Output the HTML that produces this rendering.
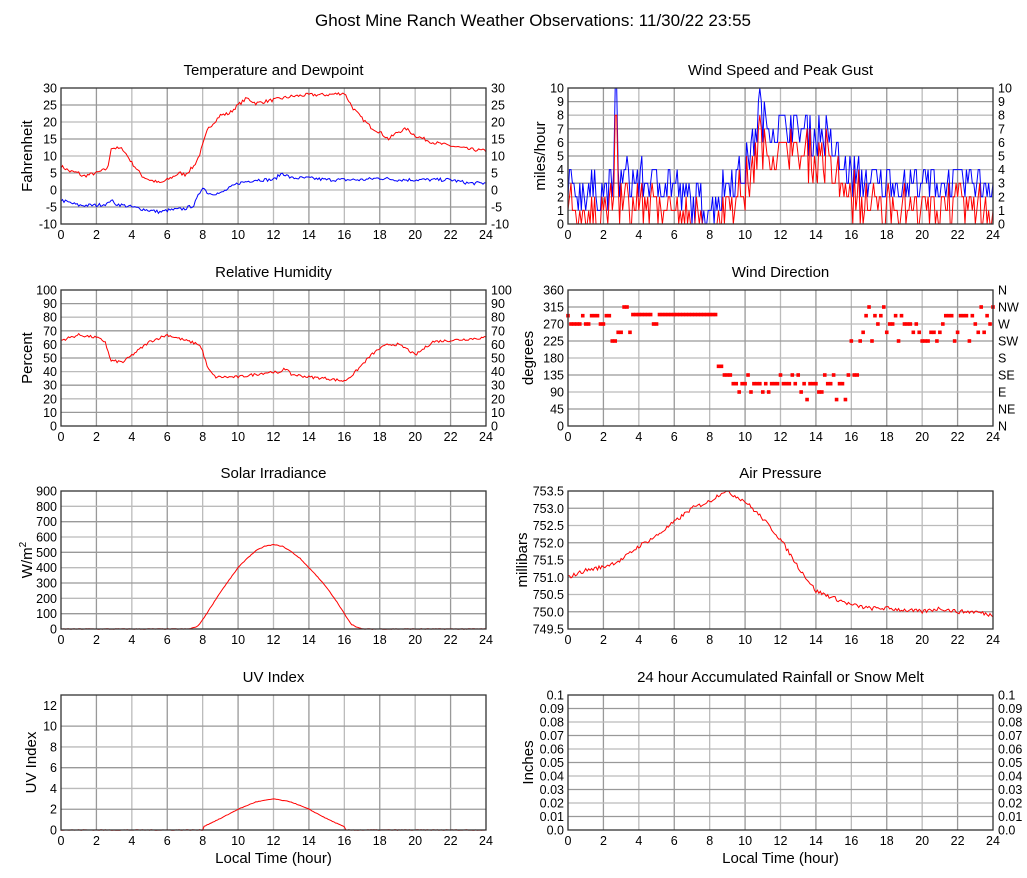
<!DOCTYPE html>
<html><head><meta charset="utf-8"><style>
body{margin:0;background:#fff;}
svg{display:block;font-family:"Liberation Sans",sans-serif;}
</style></head><body>
<svg id="s" width="1027" height="878" xmlns="http://www.w3.org/2000/svg">
<text x="533" y="26" font-size="17" text-anchor="middle">Ghost Mine Ranch Weather Observations: 11/30/22 23:55</text>
</svg>
<script>
var S=document.getElementById('s'),out='';
var seed=7;function rnd(){seed=(seed*16807)%2147483647;return (seed-1)/2147483646;}
function interp(k,t){for(var i=0;i<k.length-1;i++){if(t>=k[i][0]&&t<=k[i+1][0]){var f=(t-k[i][0])/(k[i+1][0]-k[i][0]);return k[i][1]+f*(k[i+1][1]-k[i][1]);}}return k[k.length-1][1];}
function panel(o){
 var x0=o.x0,x1=o.x1,y0=o.y0,y1=o.y1,w=x1-x0,h=y1-y0;
 o.X=function(t){return x0+t/24*w};o.Y=function(v){return y1-(v-o.min)/(o.max-o.min)*h};
 out+='<text x="'+(x0+w/2)+'" y="'+(y0-13)+'" font-size="15" text-anchor="middle">'+o.title+'</text>';
 for(var t=2;t<24;t+=2){out+='<line x1="'+o.X(t)+'" x2="'+o.X(t)+'" y1="'+y0+'" y2="'+y1+'" stroke="'+(t%4?'#999':'#bbb')+'" stroke-width="1.3"/>';}
 for(var i=0;i<o.ticks.length;i++){var v=o.ticks[i],y=o.Y(v);
  if(i>0&&i<o.ticks.length-1)out+='<line x1="'+x0+'" x2="'+x1+'" y1="'+y+'" y2="'+y+'" stroke="'+(i%2?'#999':'#bbb')+'" stroke-width="1.3"/>';
  var lab=o.lab?o.lab[i]:(o.fmt?o.fmt(v):v);
  out+='<text x="'+(x0-4)+'" y="'+(y+4.5)+'" font-size="12.5" text-anchor="end">'+lab+'</text>';
  if(o.right)out+='<text x="'+(x1+5)+'" y="'+(y+4.5)+'" font-size="12.5">'+(o.rlab?o.rlab[i]:lab)+'</text>';}
 for(var t=0;t<=24;t+=2)out+='<text x="'+o.X(t)+'" y="'+(y1+15)+'" font-size="12.5" text-anchor="middle">'+t+'</text>';
 out+='<text transform="translate('+(o.ylx)+','+(y0+h/2)+') rotate(-90)" font-size="15" text-anchor="middle">'+o.ylabel+'</text>';
 if(o.xl)out+='<text x="'+(x0+w/2)+'" y="'+(y1+33)+'" font-size="15" text-anchor="middle">Local Time (hour)</text>';
 return o;}
function line(o,f,col,n,noise){var p=[];n=n||288;for(var i=0;i<=n;i++){var t=i*24/n;var v=f(t);if(v===null)continue;v+=(rnd()-0.5)*noise;p.push(o.X(t).toFixed(1)+','+o.Y(v).toFixed(1));}
 out+='<polyline points="'+p.join(' ')+'" fill="none" stroke="'+col+'" stroke-width="1"/>';}
function frame(o){out+='<rect x="'+o.x0+'" y="'+o.y0+'" width="'+(o.x1-o.x0)+'" height="'+(o.y1-o.y0)+'" fill="none" stroke="#333" stroke-width="1.3"/>';}
var L0=61,L1=486,R0=568,R1=993;
function rng(a,b,s){var r=[];for(var v=a;v<=b+1e-9;v+=s)r.push(+v.toFixed(2));return r;}
var p=panel({x0:L0,x1:L1,y0:88,y1:224,min:-10,max:30,ticks:rng(-10,30,5),right:1,title:'Temperature and Dewpoint',ylabel:'Fahrenheit',ylx:32});
var TK=[[0,7],[0.5,5.5],[1,5],[1.2,4],[2,5],[2.5,6],[2.7,7],[2.8,12.5],[3.5,12],[4,8],[4.6,4],[5,3],[5.6,2],[6,3],[6.7,5],[7,4.5],[7.5,7],[7.8,10],[8.3,18],[9,22],[9.5,22.5],[10,25],[10.5,27],[11,25.5],[12,26.5],[13,27.5],[14,28],[15,28],[16,28.5],[16.5,24],[17,21],[17.5,18.5],[18,17],[18.5,15],[19,17],[19.5,18],[20,16],[20.5,15],[21,14],[22,13],[23,12],[24,11.5]];
var DK=[[0,-3],[1,-4.5],[2,-4.5],[2.7,-4],[2.8,-2.5],[3,-4],[4,-5],[5,-6],[5.6,-6.5],[6,-6],[7,-5.5],[7.5,-4.5],[8,1],[8.3,-1],[9,-1],[10,2],[11,3],[12,3],[12.5,5],[13,3.5],[14,3.5],[15,3],[16,3],[17,3],[18,3.5],[19,3],[20,3],[21,3],[22,3],[23,2],[24,2]];
line(p,function(t){return interp(TK,t)},'#f00',288,1);
line(p,function(t){return interp(DK,t)},'#00f',288,1);frame(p);
p=panel({x0:R0,x1:R1,y0:88,y1:224,min:0,max:10,ticks:rng(0,10,1),right:1,title:'Wind Speed and Peak Gust',ylabel:'miles/hour',ylx:545});
var GK=[[0,2.5],[2.5,2.5],[3,3.5],[6,3],[6.5,2],[8,1],[9,3],[10,4],[10.8,8],[11.5,7.5],[13,7],[14.5,6.5],[15.5,4],[17,3],[24,3]];
var gs=[],rs=[];for(var i=0;i<=288;i++){var t=i/12,g=Math.round(interp(GK,t)+(rnd()-0.5)*3);if(Math.abs(t-2.7)<0.05)g=10;if(Math.abs(t-10.85)<0.05)g=10;g=Math.max(0,Math.min(10,g));var r=Math.max(0,Math.round(g-1-rnd()*1.5));gs.push(p.X(t).toFixed(1)+','+p.Y(g).toFixed(1));rs.push(p.X(t).toFixed(1)+','+p.Y(r).toFixed(1));}
out+='<polyline points="'+gs.join(' ')+'" fill="none" stroke="#00f"/><polyline points="'+rs.join(' ')+'" fill="none" stroke="#f00"/>';frame(p);
p=panel({x0:L0,x1:L1,y0:290,y1:426,min:0,max:100,ticks:rng(0,100,10),right:1,title:'Relative Humidity',ylabel:'Percent',ylx:32});
var HK=[[0,63],[1,67],[2,65],[2.5,62],[2.8,48],[3.5,47],[4,52],[5,62],[6,67],[7,63],[7.8,60],[8,55],[8.3,42],[8.7,36],[10,36],[11,38],[12,40],[12.3,38],[12.6,43],[13,38],[14,36],[15,35],[16,33],[16.5,38],[17.5,52],[18,57],[18.5,60],[19,60],[19.5,57],[20,52],[20.5,57],[21,62],[22,63],[23,64],[24,65]];
line(p,function(t){return interp(HK,t)},'#f00',288,2);frame(p);
p=panel({x0:R0,x1:R1,y0:290,y1:426,min:0,max:360,ticks:rng(0,360,45),right:1,rlab:['N','NE','E','SE','S','SW','W','NW','N'],title:'Wind Direction',ylabel:'degrees',ylx:533});
for(var i=0;i<=144;i++){var t=i/6,d;
 if(t<2.4)d=[270,292,292,270][Math.floor(rnd()*4)];
 else if(t<3.6)d=[248,225,225,248,315,200][Math.floor(rnd()*6)];
 else if(t<8.5)d=rnd()<0.95?295:270;
 else if(t<9.2)d=[158,135][Math.floor(rnd()*2)];
 else if(t<16)d=[112,112,112,90,135,112,70][Math.floor(rnd()*7)];
 else if(t<16.6)d=[135,158,225][Math.floor(rnd()*3)];
 else d=[270,292,248,270,292,225,315][Math.floor(rnd()*7)];
 out+='<rect x="'+(p.X(t)-1.8)+'" y="'+(p.Y(d)-1.8)+'" width="3.6" height="3.6" fill="#f00"/>';}
frame(p);
p=panel({x0:L0,x1:L1,y0:491,y1:629,min:0,max:900,ticks:rng(0,900,100),title:'Solar Irradiance',ylabel:'W/m<tspan font-size="10" dy="-6">2</tspan>',ylx:32});
var SK=[[0,0],[7.2,0],[7.7,15],[8,60],[8.5,150],[9,240],[9.5,320],[10,400],[10.5,460],[11,510],[11.5,540],[12,550],[12.5,540],[13,505],[13.5,460],[14,400],[14.5,340],[15,270],[15.5,190],[16,100],[16.4,30],[16.8,8],[17,0],[24,0]];
line(p,function(t){return interp(SK,t)},'#f00',288,4);frame(p);
p=panel({x0:R0,x1:R1,y0:491,y1:629,min:749.5,max:753.5,ticks:rng(749.5,753.5,0.5),fmt:function(v){return v.toFixed(1)},title:'Air Pressure',ylabel:'millibars',ylx:527});
var PK=[[0,751.0],[1,751.2],[2,751.3],[3,751.5],[4,751.9],[5,752.2],[6,752.6],[7,753.0],[8,753.2],[8.8,753.5],[9.5,753.35],[10,753.2],[11,752.7],[12,752.1],[13,751.3],[14,750.6],[15,750.4],[16,750.2],[17,750.1],[18,750.1],[19,750.05],[20,750.0],[21,750.1],[22,750.0],[23,750.0],[24,749.9]];
line(p,function(t){return interp(PK,t)},'#f00',288,0.12);frame(p);
p=panel({x0:L0,x1:L1,y0:695,y1:830,min:0,max:13,ticks:rng(0,12,2),title:'UV Index',ylabel:'UV Index',ylx:36,xl:1});
var UK=[[0,0],[8,0],[8.01,0.3],[9,1.1],[10,2],[11,2.7],[12,3],[13,2.7],[14,2],[15,1.1],[16,0.3],[16.01,0],[24,0]];
line(p,function(t){return interp(UK,t)},'#f00',288,0.05);frame(p);
p=panel({x0:R0,x1:R1,y0:695,y1:830,min:0,max:0.1,ticks:rng(0,0.1,0.01),right:1,fmt:function(v){return v==0?'0.0':(''+v)},title:'24 hour Accumulated Rainfall or Snow Melt',ylabel:'Inches',ylx:533,xl:1});
frame(p);
S.insertAdjacentHTML('beforeend',out);
</script>
</body></html>
